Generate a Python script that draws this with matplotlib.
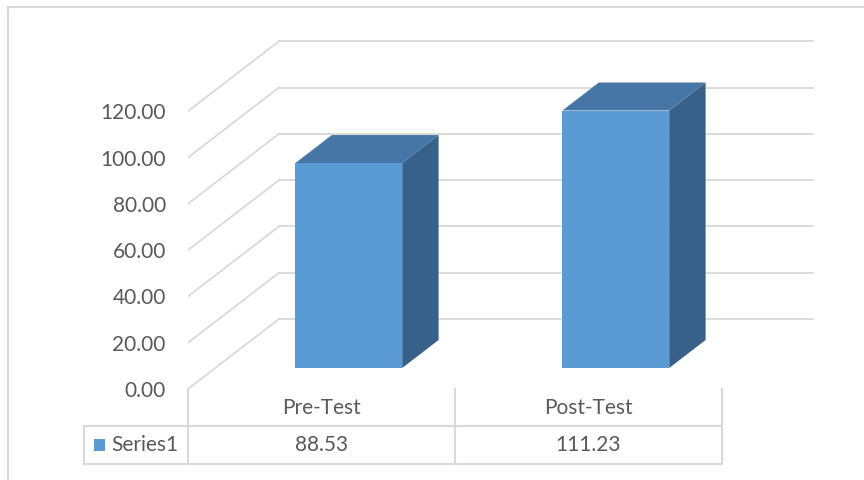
import matplotlib
matplotlib.use("Agg")
import matplotlib.pyplot as plt
from matplotlib.patches import Polygon, Rectangle
from matplotlib.lines import Line2D

plt.rcParams['font.family'] = ['Lato', 'DejaVu Sans']

# data
categories = ['Pre-Test', 'Post-Test']
series_name = 'Series1'
values = [88.53, 111.23]
yticks = [0, 20, 40, 60, 80, 100, 120]

# look
front_col = '#5B9BD5'
top_col = '#4676A6'
side_col = '#38618A'
grid_col = '#D9D9D9'
text_col = '#595959'

# pixel layout of the plot box (864x480 at dpi 100)
W, H = 864, 480
px_x = 267.0      # pixels per category
px_y = 2.315      # pixels per value unit
x0_px, y0_px = 188, 389
depth_px = (91, 70)
dx = depth_px[0] / px_x      # depth offset in data units
dy = depth_px[1] / px_y
xmin, xmax = -0.5, 1.9
ymin, ymax = 0, 160

fig = plt.figure(figsize=(W / 100, H / 100), dpi=100)
ax = fig.add_axes([x0_px / W, (H - y0_px) / H,
                   (xmax - xmin) * px_x / W, (ymax - ymin) * px_y / H])
ax.set_xlim(xmin, xmax)
ax.set_ylim(ymin, ymax)
for s in ax.spines.values():
    s.set_visible(False)
ax.set_xticks([])
ax.set_yticks(yticks)
ax.set_yticklabels(['%.2f' % t for t in yticks])
ax.tick_params(axis='y', length=0, pad=16, labelsize=15, labelcolor=text_col)

n = len(categories)
left, right = -0.5, n - 0.5

# gridlines: diagonal on the left side wall, horizontal on the back wall
for t in yticks:
    ax.plot([left, left + dx], [t, t + dy], color=grid_col, lw=1.3, zorder=1)
    ax.plot([left + dx, right + dx], [t + dy, t + dy], color=grid_col, lw=1.3, zorder=1)

# bars
bw = 0.4
d1, d2 = 0.3, 0.7
for i, v in enumerate(values):
    xl = i - bw / 2 + d1 * dx
    xr = i + bw / 2 + d1 * dx
    yb = d1 * dy
    yt = v + d1 * dy
    ox, oy = (d2 - d1) * dx, (d2 - d1) * dy
    ax.add_patch(Polygon([(xr, yb), (xr + ox, yb + oy), (xr + ox, yt + oy), (xr, yt)],
                         closed=True, fc=side_col, ec='none', zorder=3))
    ax.add_patch(Polygon([(xl, yt), (xr, yt), (xr + ox, yt + oy), (xl + ox, yt + oy)],
                         closed=True, fc=top_col, ec='none', zorder=3))
    ax.add_patch(Rectangle((xl, yb), xr - xl, yt - yb, fc=front_col, ec='none', zorder=4))

# data table under the plot
row1 = -16.0
row2 = -32.4
tab_left = left - 104 / px_x
lk = dict(color=grid_col, lw=1.5, clip_on=False, zorder=2)
ax.plot([left, right], [row1, row1], **lk)
ax.plot([tab_left, right], [row1, row1], **lk)
ax.plot([tab_left, right], [row2, row2], **lk)
ax.plot([tab_left, tab_left], [row1, row2], **lk)
for k in range(n + 1):
    ax.plot([left + k, left + k], [0, row2], **lk)

for i, (c, v) in enumerate(zip(categories, values)):
    ax.text(i, row1 / 2 - 0.4, c, ha='center', va='center', fontsize=15,
            color=text_col, clip_on=False)
    ax.text(i, (row1 + row2) / 2, '%.2f' % v, ha='center', va='center', fontsize=15,
            color=text_col, clip_on=False)

# legend key + series name
kx = tab_left + 10 / px_x
ax.add_patch(Rectangle((kx, (row1 + row2) / 2 - 2.6), 11 / px_x, 5.2,
                       fc=front_col, ec='none', clip_on=False))
ax.text(kx + 17 / px_x, (row1 + row2) / 2, series_name, ha='left', va='center',
        fontsize=15, color=text_col, clip_on=False)

# chart border (top and left visible)
fig.add_artist(Line2D([8 / W, 1], [1 - 7 / H, 1 - 7 / H], color=grid_col, lw=1.5))
fig.add_artist(Line2D([8 / W, 8 / W], [1 - 7 / H, 0], color=grid_col, lw=1.5))

fig.savefig('out.png', dpi=100)
